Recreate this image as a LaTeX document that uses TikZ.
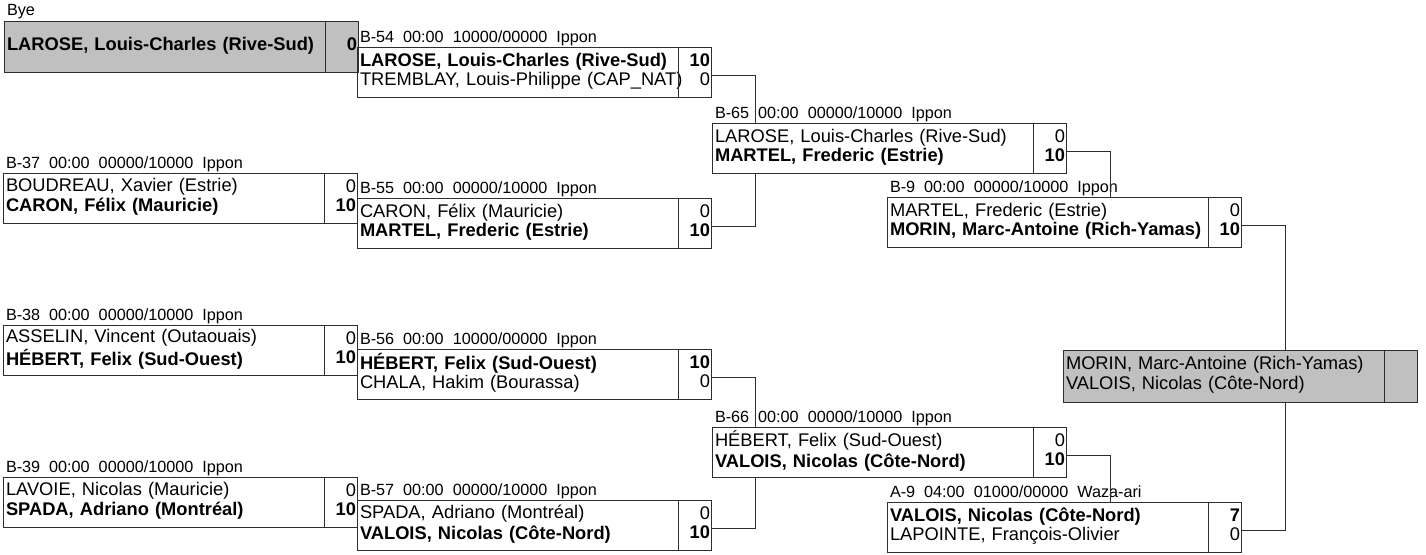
\documentclass[tikz,border=0pt]{standalone}
\usepackage{fontspec}
\setmainfont{Liberation Sans}
\usepackage{xcolor}
\usepackage{tikz}
\usetikzlibrary{positioning}

\definecolor{byegrey}{HTML}{C0C0C0}
\definecolor{edgegrey}{HTML}{2E2E2E}
\newcommand{\namefont}{\fontsize{18.3}{19}\selectfont}
\newcommand{\lblfont}{\fontsize{16.2}{18}\selectfont}

% one bout: name, top-left corner, label, player 1, score 1, player 2, score 2
\newcommand{\bout}[7]{%
  \node[namecell] (#1) at (#2) {\strut\mbox{#4}\\\strut\mbox{#6}};
  \node[scorecell, right=0pt of #1] (#1s) {\strut #5\\\strut #7};
  \node[lbl] (#1l) at ([shift={(3,-5)}]#1.north west) {#3};
}

\begin{document}
\begin{tikzpicture}[
    x=1pt, y=-1pt,
    every node/.style={inner sep=0pt, outer sep=0pt},
    namecell/.style={rectangle, draw=edgegrey, line width=1pt, anchor=north west,
               minimum width=321pt, minimum height=50pt, inner xsep=3pt,
               text width=315pt, align=left, font=\namefont},
    scorecell/.style={rectangle, draw=edgegrey, line width=1pt,
               minimum width=33pt, minimum height=50pt, inner xsep=1pt,
               text width=31pt, align=right, font=\namefont},
    lbl/.style={anchor=base west, font=\lblfont},
    conn/.style={draw=edgegrey, line width=1pt}
]
\useasboundingbox (0,0) rectangle (1426,554);

% first round
\node[namecell, fill=byegrey, minimum height=51pt] (bye) at (4,21)
    {\strut\mbox{\textbf{LAROSE, Louis-Charles (Rive-Sud)}}};
\node[scorecell, fill=byegrey, minimum height=51pt, right=0pt of bye] (byes)
    {\strut\textbf{0}};
\node[lbl] (byel) at ([shift={(3,-5)}]bye.north west) {Bye};

\bout{b37}{3,173}{B-37~~00:00~~00000/10000~~Ippon}
    {BOUDREAU, Xavier (Estrie)}{0}{\textbf{CARON, Félix (Mauricie)}}{\textbf{10}}
\bout{b38}{3,325}{B-38~~00:00~~00000/10000~~Ippon}
    {ASSELIN, Vincent (Outaouais)}{0}{\textbf{HÉBERT, Felix (Sud-Ouest)}}{\textbf{10}}
\bout{b39}{3,477}{B-39~~00:00~~00000/10000~~Ippon}
    {LAVOIE, Nicolas (Mauricie)}{0}{\textbf{SPADA, Adriano (Montréal)}}{\textbf{10}}

% second round
\bout{b54}{357,47}{B-54~~00:00~~10000/00000~~Ippon}
    {\textbf{LAROSE, Louis-Charles (Rive-Sud)}}{\textbf{10}}{TREMBLAY, Louis-Philippe (CAP\_NAT)}{0}
\bout{b55}{357,198}{B-55~~00:00~~00000/10000~~Ippon}
    {CARON, Félix (Mauricie)}{0}{\textbf{MARTEL, Frederic (Estrie)}}{\textbf{10}}
\bout{b56}{357,349}{B-56~~00:00~~10000/00000~~Ippon}
    {\textbf{HÉBERT, Felix (Sud-Ouest)}}{\textbf{10}}{CHALA, Hakim (Bourassa)}{0}
\bout{b57}{357,500}{B-57~~00:00~~00000/10000~~Ippon}
    {SPADA, Adriano (Montréal)}{0}{\textbf{VALOIS, Nicolas (Côte-Nord)}}{\textbf{10}}

% third round
\bout{b65}{712,123}{B-65~~00:00~~00000/10000~~Ippon}
    {LAROSE, Louis-Charles (Rive-Sud)}{0}{\textbf{MARTEL, Frederic (Estrie)}}{\textbf{10}}
\bout{b66}{712,427}{B-66~~00:00~~00000/10000~~Ippon}
    {HÉBERT, Felix (Sud-Ouest)}{0}{\textbf{VALOIS, Nicolas (Côte-Nord)}}{\textbf{10}}

% semi-finals
\bout{b9}{887,197}{B-9~~00:00~~00000/10000~~Ippon}
    {MARTEL, Frederic (Estrie)}{0}{\textbf{MORIN, Marc-Antoine (Rich-Yamas)}}{\textbf{10}}
\bout{a9}{887,502}{A-9~~04:00~~01000/00000~~Waza-ari}
    {\textbf{VALOIS, Nicolas (Côte-Nord)}}{\textbf{7}}{LAPOINTE, François-Olivier}{0}

% final
\node[namecell, fill=byegrey, minimum height=52pt] (fin) at (1063,350)
    {\strut\mbox{MORIN, Marc-Antoine (Rich-Yamas)}\\\strut\mbox{VALOIS, Nicolas (Côte-Nord)}};
\node[scorecell, fill=byegrey, minimum height=52pt, right=0pt of fin] (fins) {};

% winners move on
\draw[conn] ([yshift=-3pt]b54s.east) -- ++(44,0) |- (b65.north);
\draw[conn] ([yshift=-3pt]b55s.east) -- ++(44,0) |- (b65.south);
\draw[conn] ([yshift=-3pt]b56s.east) -- ++(44,0) |- (b66.north);
\draw[conn] ([yshift=-3pt]b57s.east) -- ++(44,0) |- (b66.south);
\draw[conn] ([yshift=-3pt]b65s.east) -- ++(44,0) |- (b9.north);
\draw[conn] ([yshift=-3pt]b66s.east) -- ++(44,0) |- (a9.north);
\draw[conn] ([yshift=-3pt]b9s.east) -- ++(44,0) |- (fin.north);
\draw[conn] ([yshift=-3pt]a9s.east) -- ++(44,0) |- (fin.south);
\end{tikzpicture}
\end{document}
